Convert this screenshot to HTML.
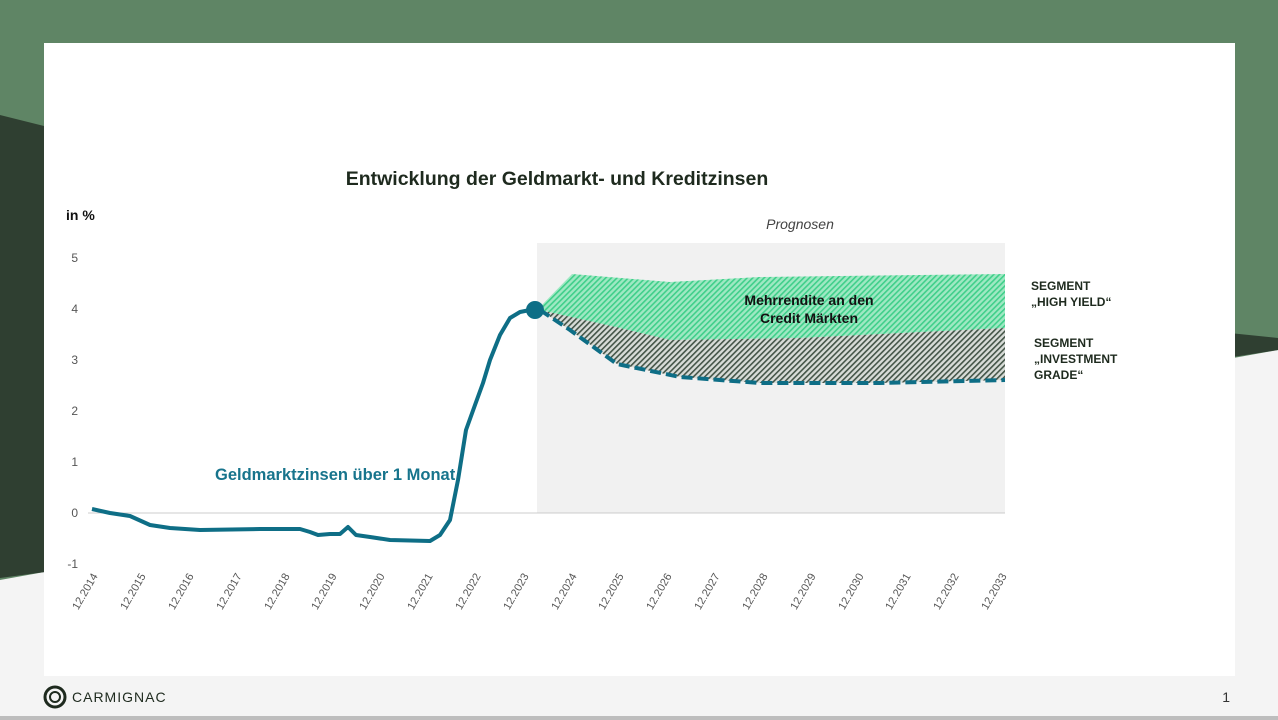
<!DOCTYPE html>
<html><head><meta charset="utf-8"><style>
body{margin:0;width:1278px;height:720px;overflow:hidden;font-family:"Liberation Sans",sans-serif;}
</style></head><body>
<svg width="1278" height="720" xmlns="http://www.w3.org/2000/svg" style="display:block">
<defs>
<pattern id="pg" width="4" height="4" patternUnits="userSpaceOnUse" patternTransform="rotate(45)">
<rect width="4" height="4" fill="#9fe8c3"/><rect width="1.6" height="4" fill="#3fcf8a"/></pattern>
<pattern id="pd" width="4" height="4" patternUnits="userSpaceOnUse" patternTransform="rotate(45)">
<rect width="4" height="4" fill="#d8dcd8"/><rect width="1.6" height="4" fill="#445548"/></pattern>
</defs>
<rect width="1278" height="720" fill="#f4f4f4"/>
<polygon points="0,0 1278,0 1278,350 0,580" fill="#5f8565"/>
<polygon points="0,115 60,130 60,570 0,578" fill="#2f3f31"/>
<polygon points="1200,330 1278,338 1278,350 1200,362" fill="#2f3f31"/>
<rect x="0" y="716" width="1278" height="4" fill="#bdbdbd"/>
<rect x="44" y="43" width="1191" height="633" fill="#fff"/>
<text x="557" y="185" font-size="19.5" font-weight="bold" fill="#1e2a1e" text-anchor="middle">Entwicklung der Geldmarkt- und Kreditzinsen</text>
<text x="66" y="220" font-size="14" font-weight="bold" fill="#111">in %</text>
<text x="800" y="229" font-size="14" font-style="italic" fill="#444" text-anchor="middle">Prognosen</text>
<rect x="537" y="243" width="468" height="270" fill="#f1f1f1"/>
<g font-size="12" fill="#555" text-anchor="end">
<text x="78" y="262">5</text><text x="78" y="313">4</text><text x="78" y="364">3</text><text x="78" y="415">2</text><text x="78" y="466">1</text><text x="78" y="517">0</text><text x="78" y="568">-1</text></g>
<line x1="88" y1="513" x2="1005" y2="513" stroke="#ccc"/>
<polygon points="537,310 572,274 670,282 760,277 1005,274 1005,328 800,338 670,340 620,328 540,310" fill="url(#pg)"/>
<polygon points="540,310 620,328 670,340 800,338 1005,328 1005,380 880,383 760,383 680,377 617,364 570,330" fill="url(#pd)"/>
<polyline points="540,310 570,330 617,364 680,377 760,383 880,383 1005,380" fill="none" stroke="#0e6e86" stroke-width="4" stroke-dasharray="11,5"/>
<polyline points="92,509 110,513 130,516 150,525 170,528 200,530 260,529 300,529 310,532 318,535 330,534 340,534 348,527 356,535 370,537 390,540 430,541 440,535 450,520 458,480 466,430 475,405 483,383 490,360 500,335 510,318 520,312 530,310" fill="none" stroke="#0e6e86" stroke-width="4" stroke-linejoin="round"/>
<circle cx="535" cy="310" r="9" fill="#0e6e86"/>
<text x="809" y="305" font-size="14" font-weight="bold" fill="#111" text-anchor="middle">Mehrrendite an den</text>
<text x="809" y="323" font-size="14" font-weight="bold" fill="#111" text-anchor="middle">Credit Märkten</text>
<text x="215" y="480" font-size="16.5" font-weight="bold" fill="#17748c">Geldmarktzinsen über 1 Monat</text>
<g font-size="12" font-weight="bold" fill="#1e2a1e">
<text x="1031" y="290">SEGMENT</text><text x="1031" y="306">„HIGH YIELD“</text>
<text x="1034" y="347">SEGMENT</text><text x="1034" y="363">„INVESTMENT</text><text x="1034" y="379">GRADE“</text></g>
<g font-size="11" fill="#555" text-anchor="end">
<text transform="translate(98,576) rotate(-60)">12.2014</text>
<text transform="translate(146,576) rotate(-60)">12.2015</text>
<text transform="translate(194,576) rotate(-60)">12.2016</text>
<text transform="translate(242,576) rotate(-60)">12.2017</text>
<text transform="translate(290,576) rotate(-60)">12.2018</text>
<text transform="translate(337,576) rotate(-60)">12.2019</text>
<text transform="translate(385,576) rotate(-60)">12.2020</text>
<text transform="translate(433,576) rotate(-60)">12.2021</text>
<text transform="translate(481,576) rotate(-60)">12.2022</text>
<text transform="translate(529,576) rotate(-60)">12.2023</text>
<text transform="translate(577,576) rotate(-60)">12.2024</text>
<text transform="translate(624,576) rotate(-60)">12.2025</text>
<text transform="translate(672,576) rotate(-60)">12.2026</text>
<text transform="translate(720,576) rotate(-60)">12.2027</text>
<text transform="translate(768,576) rotate(-60)">12.2028</text>
<text transform="translate(816,576) rotate(-60)">12.2029</text>
<text transform="translate(864,576) rotate(-60)">12.2030</text>
<text transform="translate(911,576) rotate(-60)">12.2031</text>
<text transform="translate(959,576) rotate(-60)">12.2032</text>
<text transform="translate(1007,576) rotate(-60)">12.2033</text>
</g>
<circle cx="55" cy="697" r="10" fill="none" stroke="#1e2a1e" stroke-width="3"/>
<circle cx="55" cy="697" r="5" fill="none" stroke="#1e2a1e" stroke-width="2"/>
<text x="72" y="702" font-size="14" fill="#1e2a1e" letter-spacing="1">CARMIGNAC</text>
<text x="1230" y="702" font-size="14" fill="#333" text-anchor="end">1</text>
</svg>
</body></html>
